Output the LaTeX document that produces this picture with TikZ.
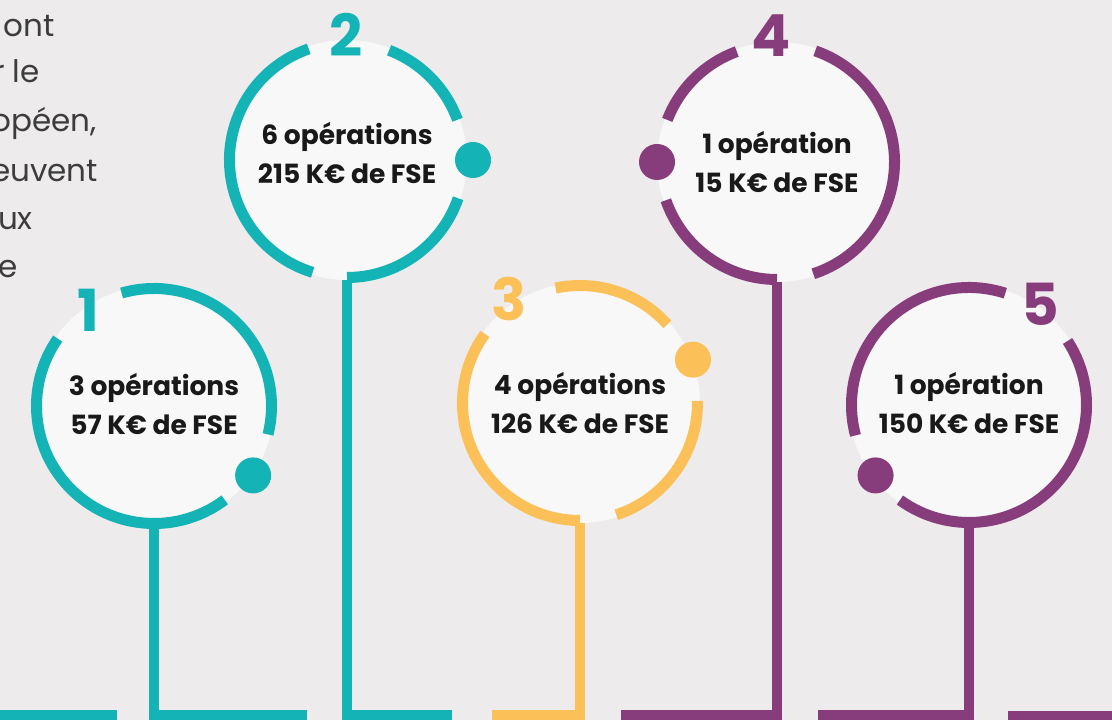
\documentclass[tikz,border=0pt]{standalone}
\usepackage{fontspec}
\setmainfont{Poppins}
\usepackage{tikz}
\usepackage{xcolor}
\definecolor{turquoise}{RGB}{20,179,181}
\definecolor{jaune}{RGB}{251,192,88}
\definecolor{prune}{RGB}{135,61,124}
\definecolor{fond}{RGB}{237,235,236}
\definecolor{disque}{RGB}{248,248,248}
\definecolor{gristexte}{RGB}{60,60,60}
\tikzstyle{cercle} = [circle, fill=disque, minimum size=240pt, inner sep=0pt]
\tikzstyle{anneau} = [line width=11pt]
\tikzstyle{tige} = [line width=10pt]
\tikzstyle{point} = [circle, minimum size=36pt, inner sep=0pt]
\tikzstyle{chiffre} = [font=\fontsize{58}{58}\selectfont\bfseries, inner sep=0pt]
\tikzstyle{bilan} = [align=center, font=\fontsize{26.5}{39}\selectfont\bfseries, text=black!90]
\tikzstyle{texte} = [anchor=base east, inner sep=0pt, font=\fontsize{31}{48}\selectfont, text=gristexte]

\begin{document}
\begin{tikzpicture}[x=1pt,y=1pt]
  \useasboundingbox (0,0) rectangle (1112,720);
  \clip (0,0) rectangle (1112,720);
  \fill[fond] (0,0) rectangle (1112,720);

  % texte coupe a gauche
  \node[texte] (Ligne_un) at (55,683) {ont};
  \node[texte] (Ligne_deux) at (40,637) {r le};
  \node[texte] (Ligne_trois) at (97,588) {opéen,};
  \node[texte] (Ligne_quatre) at (98,538) {euvent};
  \node[texte] (Ligne_cinq) at (33,490) {ux};
  \node[texte] (Ligne_six) at (18,442) {e};

  \node[cercle] (Cercle_un) at (154,314) {};
  \node[cercle] (Cercle_deux) at (347,560) {};
  \node[cercle] (Cercle_trois) at (580,317) {};
  \node[cercle] (Cercle_quatre) at (777,558) {};
  \node[cercle] (Cercle_cinq) at (969,315) {};

  \coordinate (Coin_un) at (154,5);
  \coordinate (Bout_un) at (307,5);
  \coordinate (Coin_deux) at (347,5);
  \coordinate (Bout_deux) at (452,5);
  \coordinate (Coin_trois) at (580,5);
  \coordinate (Bout_trois) at (492,5);
  \coordinate (Coin_quatre) at (777,5);
  \coordinate (Bout_quatre) at (621,5);
  \coordinate (Coin_cinq) at (969,5);
  \coordinate (Bout_cinq) at (818,5);
  \coordinate (Barre_gauche_a) at (-10,5);
  \coordinate (Barre_gauche_b) at (117,5);
  \coordinate (Barre_droite_a) at (1008,4);
  \coordinate (Barre_droite_b) at (1125,4);

  \draw[tige, turquoise] (Cercle_un.south) -- (Coin_un) -- (Bout_un);
  \draw[tige, turquoise] (Cercle_deux.south) -- (Coin_deux) -- (Bout_deux);
  \draw[tige, jaune] (Cercle_trois.south) -- (Coin_trois) -- (Bout_trois);
  \draw[tige, prune] (Cercle_quatre.south) -- (Coin_quatre) -- (Bout_quatre);
  \draw[tige, prune] (Cercle_cinq.south) -- (Coin_cinq) -- (Bout_cinq);
  \draw[tige, turquoise] (Barre_gauche_a) -- (Barre_gauche_b);
  \draw[tige, prune] (Barre_droite_a) -- (Barre_droite_b);

  % anneaux
  \draw[anneau, turquoise] ([shift={(106:117.5)}]Cercle_un.center) arc[start angle=106, end angle=-14, radius=117.5];
  \draw[anneau, turquoise] ([shift={(-53:117.5)}]Cercle_un.center) arc[start angle=-53, end angle=-215, radius=117.5];
  \draw[anneau, turquoise] ([shift={(109:117.5)}]Cercle_deux.center) arc[start angle=109, end angle=253, radius=117.5];
  \draw[anneau, turquoise] ([shift={(69:117.5)}]Cercle_deux.center) arc[start angle=69, end angle=20, radius=117.5];
  \draw[anneau, turquoise] ([shift={(-19:117.5)}]Cercle_deux.center) arc[start angle=-19, end angle=-90, radius=117.5];
  \draw[anneau, jaune] ([shift={(102:117.5)}]Cercle_trois.center) arc[start angle=102, end angle=42, radius=117.5];
  \draw[anneau, jaune] ([shift={(1:117.5)}]Cercle_trois.center) arc[start angle=1, end angle=-72, radius=117.5];
  \draw[anneau, jaune] ([shift={(-90:117.5)}]Cercle_trois.center) arc[start angle=-90, end angle=-216, radius=117.5];
  \draw[anneau, prune] ([shift={(110:117.5)}]Cercle_quatre.center) arc[start angle=110, end angle=159, radius=117.5];
  \draw[anneau, prune] ([shift={(199:117.5)}]Cercle_quatre.center) arc[start angle=199, end angle=270, radius=117.5];
  \draw[anneau, prune] ([shift={(288:117.5)}]Cercle_quatre.center) arc[start angle=288, end angle=431, radius=117.5];
  \draw[anneau, prune] ([shift={(72:117.5)}]Cercle_cinq.center) arc[start angle=72, end angle=195, radius=117.5];
  \draw[anneau, prune] ([shift={(33:117.5)}]Cercle_cinq.center) arc[start angle=33, end angle=-126, radius=117.5];

  \node[point, fill=turquoise] (Point_un) at ([shift={(-35:121)}]Cercle_un.center) {};
  \node[point, fill=turquoise] (Point_deux) at ([shift={(0:126)}]Cercle_deux.center) {};
  \node[point, fill=jaune] (Point_trois) at ([shift={(21:121)}]Cercle_trois.center) {};
  \node[point, fill=prune] (Point_quatre) at ([shift={(180:120)}]Cercle_quatre.center) {};
  \node[point, fill=prune] (Point_cinq) at ([shift={(-143:117)}]Cercle_cinq.center) {};

  \node[chiffre, text=turquoise] (Num_un) at (88,410) {1};
  \node[chiffre, text=turquoise] (Num_deux) at (346,685) {2};
  \node[chiffre, text=jaune] (Num_trois) at (509,421) {3};
  \node[chiffre, text=prune] (Num_quatre) at (771,684) {4};
  \node[chiffre, text=prune] (Num_cinq) at (1040,416) {5};

  \node[bilan] (Bilan_un) at ([yshift=2pt]Cercle_un.center) {3 opérations\\57 K€ de FSE};
  \node[bilan] (Bilan_deux) at ([yshift=7pt]Cercle_deux.center) {6 opérations\\215 K€ de FSE};
  \node[bilan] (Bilan_trois) at (Cercle_trois) {4 opérations\\126 K€ de FSE};
  \node[bilan] (Bilan_quatre) at (Cercle_quatre) {1 opération\\15 K€ de FSE};
  \node[bilan] (Bilan_cinq) at ([yshift=2pt]Cercle_cinq.center) {1 opération\\150 K€ de FSE};
\end{tikzpicture}
\end{document}
